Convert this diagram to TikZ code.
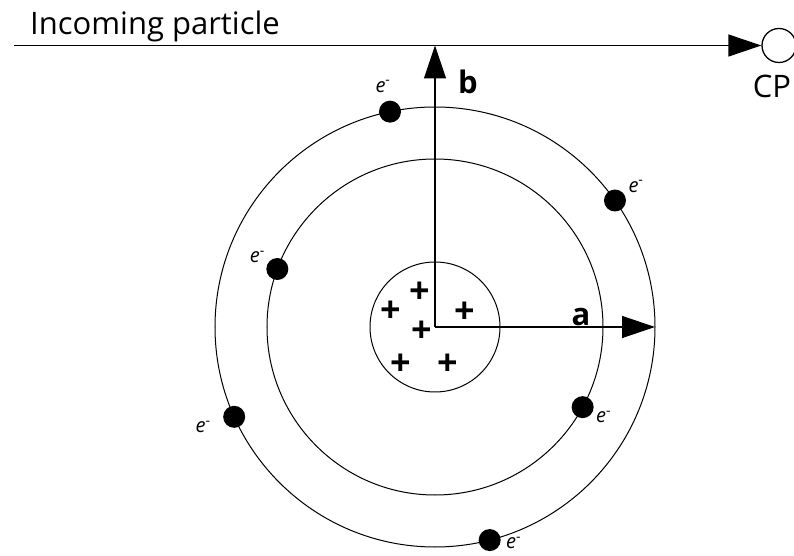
\documentclass[tikz,border=0pt]{standalone}
\usepackage{fontspec}
\setmainfont{Open Sans}
\usetikzlibrary{calc,arrows.meta,positioning}
\tikzset{
  orbit/.style={line width=1pt},
  electron/.style={circle,fill=black,inner sep=0pt,minimum size=22pt},
  elabel/.style={inner sep=0pt,font=\fontsize{20}{20}\selectfont},
  charge/.style={inner sep=0pt,font=\fontsize{36}{36}\selectfont\bfseries},
  bigtext/.style={inner sep=0pt,font=\fontsize{31}{31}\selectfont},
  bigarrow/.style={line width=1.3pt,-{Triangle[length=33pt,width=22pt]}},
}

\begin{document}
\begin{tikzpicture}[x=1pt,y=1pt]
\useasboundingbox (-435,-229) rectangle (359,327);
\coordinate (o) at (0,0);
\node[draw,circle,line width=1pt,minimum size=130pt,inner sep=0pt] (nucleus) at (o) {};
\draw[orbit] (o) circle[radius=168pt];
\draw[orbit] (o) circle[radius=220pt];

\node[charge] (p1) at (-15,34) {+};
\node[charge] (p2) at (-44,15) {+};
\node[charge] (p3) at (30,14) {+};
\node[charge] (p4) at (-13,-5) {+};
\node[charge] (p5) at (-34,-38) {+};
\node[charge] (p6) at (13,-38) {+};

\node[electron] (e1) at (101.8:220) {};
\node[electron] (e2) at (35.1:220) {};
\node[electron] (e3) at (159.8:168) {};
\node[electron] (e4) at (204.1:220) {};
\node[electron] (e5) at (331.5:168) {};
\node[electron] (e6) at (284.4:220) {};
\node[elabel] (l1) at ($(e1)+(-7,25)$) {\textit{e}\textsuperscript{-}};
\node[elabel] (l2) at ($(e2)+(21,14)$) {\textit{e}\textsuperscript{-}};
\node[elabel] (l3) at ($(e3)+(-20,12)$) {\textit{e}\textsuperscript{-}};
\node[elabel] (l4) at ($(e4)+(-31,-10)$) {\textit{e}\textsuperscript{-}};
\node[elabel] (l5) at ($(e5)+(21,-10)$) {\textit{e}\textsuperscript{-}};
\node[elabel] (l6) at ($(e6)+(24,-3)$) {\textit{e}\textsuperscript{-}};

\coordinate (src) at (-421,281.5);
\coordinate (arim) at (0:220);
\node[draw,circle,line width=1.3pt,minimum size=34pt,inner sep=0pt] (cp) at (344,281.5) {};
\node[bigtext] (cplabel) at (337,241) {CP};
\node[bigtext,anchor=base west] (intext) at (-405,292) {Incoming particle};
\draw[bigarrow] (src) -- (cp.west);
\draw[bigarrow] (o) -- (o |- src);
\draw[bigarrow] (o) -- (arim);
\node[bigtext] (lb) at (33,245) {\textbf{b}};
\node[bigtext] (la) at (146,10) {\textbf{a}};
\end{tikzpicture}
\end{document}
